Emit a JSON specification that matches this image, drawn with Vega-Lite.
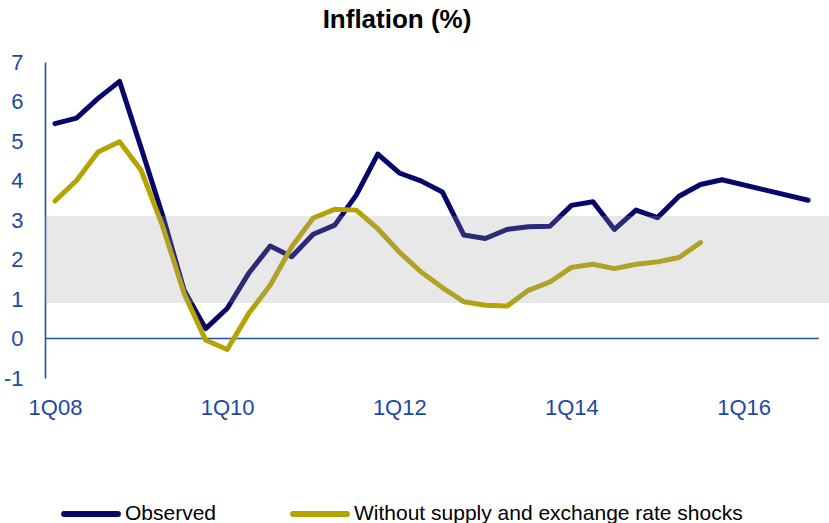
{
  "$schema": "https://vega.github.io/schema/vega-lite/v6.json",
  "autosize": "none",
  "width": 784,
  "height": 316,
  "padding": {"left": 45, "top": 62, "right": 0, "bottom": 145},
  "background": "white",
  "title": {"text": "Inflation (%)", "font": "Liberation Sans", "fontSize": 26, "fontWeight": "bold", "color": "#000000", "anchor": "middle", "dx": -40, "offset": 18},
  "config": {"view": {"stroke": null}, "axis": {"grid": false, "labelOverlap": false}},
  "datasets": {
    "series": [
      {"q": 0, "series": "Observed", "value": 5.44},
      {"q": 1, "series": "Observed", "value": 5.58},
      {"q": 2, "series": "Observed", "value": 6.08},
      {"q": 3, "series": "Observed", "value": 6.51},
      {"q": 4, "series": "Observed", "value": 4.83},
      {"q": 5, "series": "Observed", "value": 3.12},
      {"q": 6, "series": "Observed", "value": 1.22},
      {"q": 7, "series": "Observed", "value": 0.25},
      {"q": 8, "series": "Observed", "value": 0.76},
      {"q": 9, "series": "Observed", "value": 1.65},
      {"q": 10, "series": "Observed", "value": 2.34},
      {"q": 11, "series": "Observed", "value": 2.07},
      {"q": 12, "series": "Observed", "value": 2.64},
      {"q": 13, "series": "Observed", "value": 2.87},
      {"q": 14, "series": "Observed", "value": 3.63},
      {"q": 15, "series": "Observed", "value": 4.67},
      {"q": 16, "series": "Observed", "value": 4.19},
      {"q": 17, "series": "Observed", "value": 3.99},
      {"q": 18, "series": "Observed", "value": 3.71},
      {"q": 19, "series": "Observed", "value": 2.62},
      {"q": 20, "series": "Observed", "value": 2.53},
      {"q": 21, "series": "Observed", "value": 2.76},
      {"q": 22, "series": "Observed", "value": 2.83},
      {"q": 23, "series": "Observed", "value": 2.84},
      {"q": 24, "series": "Observed", "value": 3.37},
      {"q": 25, "series": "Observed", "value": 3.46},
      {"q": 26, "series": "Observed", "value": 2.76},
      {"q": 27, "series": "Observed", "value": 3.25},
      {"q": 28, "series": "Observed", "value": 3.06},
      {"q": 29, "series": "Observed", "value": 3.6},
      {"q": 30, "series": "Observed", "value": 3.9},
      {"q": 31, "series": "Observed", "value": 4.02},
      {"q": 35, "series": "Observed", "value": 3.5},
      {"q": 0, "series": "Without supply and exchange rate shocks", "value": 3.48},
      {"q": 1, "series": "Without supply and exchange rate shocks", "value": 4.0},
      {"q": 2, "series": "Without supply and exchange rate shocks", "value": 4.72},
      {"q": 3, "series": "Without supply and exchange rate shocks", "value": 4.98},
      {"q": 4, "series": "Without supply and exchange rate shocks", "value": 4.26},
      {"q": 5, "series": "Without supply and exchange rate shocks", "value": 2.85},
      {"q": 6, "series": "Without supply and exchange rate shocks", "value": 1.14},
      {"q": 7, "series": "Without supply and exchange rate shocks", "value": -0.04},
      {"q": 8, "series": "Without supply and exchange rate shocks", "value": -0.28},
      {"q": 9, "series": "Without supply and exchange rate shocks", "value": 0.63},
      {"q": 10, "series": "Without supply and exchange rate shocks", "value": 1.35},
      {"q": 11, "series": "Without supply and exchange rate shocks", "value": 2.32},
      {"q": 12, "series": "Without supply and exchange rate shocks", "value": 3.05},
      {"q": 13, "series": "Without supply and exchange rate shocks", "value": 3.27},
      {"q": 14, "series": "Without supply and exchange rate shocks", "value": 3.25},
      {"q": 15, "series": "Without supply and exchange rate shocks", "value": 2.78},
      {"q": 16, "series": "Without supply and exchange rate shocks", "value": 2.19},
      {"q": 17, "series": "Without supply and exchange rate shocks", "value": 1.69},
      {"q": 18, "series": "Without supply and exchange rate shocks", "value": 1.29},
      {"q": 19, "series": "Without supply and exchange rate shocks", "value": 0.93},
      {"q": 20, "series": "Without supply and exchange rate shocks", "value": 0.84},
      {"q": 21, "series": "Without supply and exchange rate shocks", "value": 0.82},
      {"q": 22, "series": "Without supply and exchange rate shocks", "value": 1.22},
      {"q": 23, "series": "Without supply and exchange rate shocks", "value": 1.43},
      {"q": 24, "series": "Without supply and exchange rate shocks", "value": 1.8},
      {"q": 25, "series": "Without supply and exchange rate shocks", "value": 1.88},
      {"q": 26, "series": "Without supply and exchange rate shocks", "value": 1.77},
      {"q": 27, "series": "Without supply and exchange rate shocks", "value": 1.88},
      {"q": 28, "series": "Without supply and exchange rate shocks", "value": 1.94},
      {"q": 29, "series": "Without supply and exchange rate shocks", "value": 2.05},
      {"q": 30, "series": "Without supply and exchange rate shocks", "value": 2.43}
    ],
    "band": [{"x1": -0.465, "x2": 35.97, "lo": 0.9, "hi": 3.1}],
    "zero": [{"x1": -0.465, "x2": 35.5, "y": 0}]
  },
  "layer": [
    {
      "data": {"name": "zero"},
      "mark": {"type": "rule", "color": "#1f4fa8", "strokeWidth": 1.6},
      "encoding": {
        "x": {"field": "x1", "type": "quantitative", "scale": {"domain": [-0.465, 35.97], "nice": false, "zero": false},
          "axis": {"values": [0, 8, 16, 24, 32], "tickCount": 20, "labelExpr": "'1Q' + ((datum.value/4+8) < 10 ? '0' : '') + (datum.value/4+8)", "domain": false, "ticks": false, "labelPadding": 19, "labelFont": "Liberation Sans", "labelFontSize": 22, "labelColor": "#1b4aa6", "labelOverlap": false, "title": null}},
        "x2": {"field": "x2"},
        "y": {"field": "y", "type": "quantitative", "scale": {"domain": [-1, 7], "nice": false, "zero": false},
          "axis": {"values": [-1, 0, 1, 2, 3, 4, 5, 6, 7], "tickCount": 20, "labelExpr": "datum.value < 0 ? '-' + abs(datum.value) : '' + datum.value", "labelOverlap": false, "domainColor": "#1f4fa8", "domainWidth": 1.6, "ticks": false, "labelPadding": 22, "labelFont": "Liberation Sans", "labelFontSize": 22, "labelColor": "#1b4aa6", "title": null}}
      }
    },
    {
      "data": {"name": "series"},
      "mark": {"type": "line", "strokeWidth": 5, "strokeCap": "round", "strokeJoin": "round"},
      "encoding": {
        "x": {"field": "q", "type": "quantitative"},
        "y": {"field": "value", "type": "quantitative"},
        "color": {"field": "series", "type": "nominal",
          "scale": {"domain": ["Observed", "Without supply and exchange rate shocks"], "range": ["#06066b", "#b4a300"]},
          "legend": {"orient": "none", "legendX": 16, "legendY": 422, "direction": "horizontal", "title": null,
            "symbolType": "stroke", "symbolSize": 2900, "symbolStrokeWidth": 6, "labelFont": "Liberation Sans", "labelFontSize": 21, "labelColor": "#000000", "labelOffset": 4, "columnPadding": 64, "labelLimit": 500,
            "encode": {"symbols": {"update": {"strokeCap": {"value": "round"}}}}}}
      }
    },
    {
      "data": {"name": "band"},
      "mark": {"type": "rect", "color": "#9e9e9e", "opacity": 0.24},
      "encoding": {
        "x": {"field": "x1", "type": "quantitative"},
        "x2": {"field": "x2"},
        "y": {"field": "lo", "type": "quantitative"},
        "y2": {"field": "hi"}
      }
    }
  ]
}
